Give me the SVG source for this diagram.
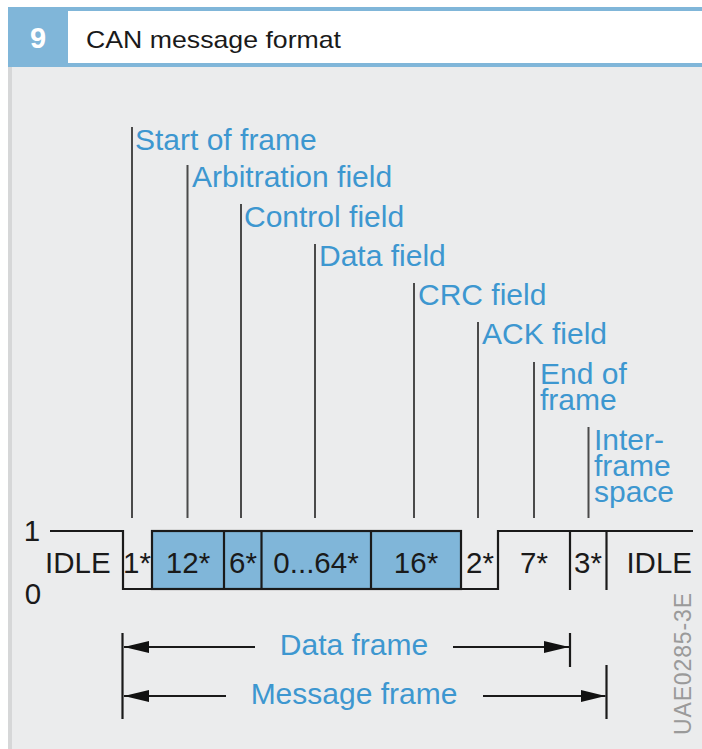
<svg xmlns="http://www.w3.org/2000/svg" width="702" height="749" viewBox="0 0 702 749">
<style>
.lbl{font-family:"Liberation Sans",Arial,sans-serif;font-size:30px;fill:#3d97d0}
.sig{font-family:"Liberation Sans",Arial,sans-serif;font-size:29.5px;fill:#1a1a1a}
.lead{stroke:#4a4a4a;stroke-width:2;fill:none}
.ln{stroke:#1a1a1a;stroke-width:2.2;fill:none}
.box{fill:#80b6d9;stroke:#1a1a1a;stroke-width:2.2}
</style>
<defs>
<marker id="ah" viewBox="0 0 25 12" refX="25" refY="6" markerWidth="25" markerHeight="12" markerUnits="userSpaceOnUse" orient="auto-start-reverse">
<path d="M0,0 L25,6 L0,12 Z" fill="#111"/>
</marker>
</defs>
<rect x="0" y="0" width="702" height="749" fill="#ffffff"/>
<rect x="8" y="67" width="694" height="682" fill="#ebeced"/>
<rect x="8" y="67" width="4" height="682" fill="#d6d7d8"/>
<g id="header">
<rect x="8" y="7" width="694" height="4" fill="#80b6d9"/>
<rect x="8" y="63" width="694" height="4" fill="#80b6d9"/>
<rect x="8" y="7" width="60" height="60" fill="#80b6d9"/>
<text x="38" y="48" text-anchor="middle" style="font-family:'Liberation Sans',Arial,sans-serif;font-size:29px;font-weight:bold;fill:#ffffff">9</text>
<text x="86" y="48" textLength="255" lengthAdjust="spacingAndGlyphs" style="font-family:'Liberation Sans',Arial,sans-serif;font-size:24px;fill:#1a1a1a">CAN message format</text>
</g>
<g id="leaders">
<line class="lead" x1="132" y1="127" x2="132" y2="518"/>
<line class="lead" x1="187.5" y1="165" x2="187.5" y2="518"/>
<line class="lead" x1="241" y1="204" x2="241" y2="518"/>
<line class="lead" x1="315" y1="244" x2="315" y2="518"/>
<line class="lead" x1="414" y1="283" x2="414" y2="518"/>
<line class="lead" x1="478" y1="322" x2="478" y2="518"/>
<line class="lead" x1="534" y1="362" x2="534" y2="518"/>
<line class="lead" x1="588.5" y1="427" x2="588.5" y2="518"/>
</g>
<g id="field-labels">
<text class="lbl" x="135" y="150">Start of frame</text>
<text class="lbl" x="192" y="187">Arbitration field</text>
<text class="lbl" x="244" y="227">Control field</text>
<text class="lbl" x="319" y="266">Data field</text>
<text class="lbl" x="418" y="305">CRC field</text>
<text class="lbl" x="482" y="344">ACK field</text>
<text class="lbl" x="540" y="384">End of<tspan x="540" dy="26">frame</tspan></text>
<text class="lbl" x="594" y="450">Inter-<tspan x="594" dy="26">frame</tspan><tspan x="594" dy="26">space</tspan></text>
</g>
<g id="signal">
<rect class="box" x="152" y="531" width="309" height="58"/>
<line class="ln" x1="224" y1="531" x2="224" y2="589"/>
<line class="ln" x1="261.5" y1="531" x2="261.5" y2="589"/>
<line class="ln" x1="371" y1="531" x2="371" y2="589"/>
<polyline class="ln" points="50,531 123,531 123,589 152,589"/>
<polyline class="ln" points="461,589 498,589 498,531 693,531"/>
<line class="ln" x1="570" y1="531" x2="570" y2="590"/>
<line class="ln" x1="606.5" y1="531" x2="606.5" y2="590"/>
<text class="sig" x="32" y="541" text-anchor="middle">1</text>
<text class="sig" x="33" y="604" text-anchor="middle">0</text>
<text class="sig" x="45" y="573">IDLE</text>
<text class="sig" x="137" y="573" text-anchor="middle">1*</text>
<text class="sig" x="188" y="573" text-anchor="middle">12*</text>
<text class="sig" x="243" y="573" text-anchor="middle">6*</text>
<text class="sig" x="316" y="573" text-anchor="middle">0...64*</text>
<text class="sig" x="416" y="573" text-anchor="middle">16*</text>
<text class="sig" x="480" y="573" text-anchor="middle">2*</text>
<text class="sig" x="534" y="573" text-anchor="middle">7*</text>
<text class="sig" x="588" y="573" text-anchor="middle">3*</text>
<text class="sig" x="692" y="573" text-anchor="end">IDLE</text>
</g>
<g id="frames">
<line class="ln" x1="122.5" y1="633" x2="122.5" y2="719"/>
<line class="ln" x1="570" y1="633" x2="570" y2="667"/>
<line class="ln" x1="606.5" y1="665" x2="606.5" y2="719"/>
<line class="ln" x1="255" y1="647" x2="124" y2="647" marker-end="url(#ah)"/>
<line class="ln" x1="453" y1="647" x2="569" y2="647" marker-end="url(#ah)"/>
<line class="ln" x1="226" y1="696" x2="124" y2="696" marker-end="url(#ah)"/>
<line class="ln" x1="483" y1="696" x2="605.5" y2="696" marker-end="url(#ah)"/>
<text class="lbl" x="354" y="655" text-anchor="middle">Data frame</text>
<text class="lbl" x="354" y="704" text-anchor="middle">Message frame</text>
</g>
<text transform="translate(691,735) rotate(-90)" textLength="142" style="font-family:'Liberation Sans',Arial,sans-serif;font-size:23px;fill:#9a9a9a">UAE0285-3E</text>
</svg>
